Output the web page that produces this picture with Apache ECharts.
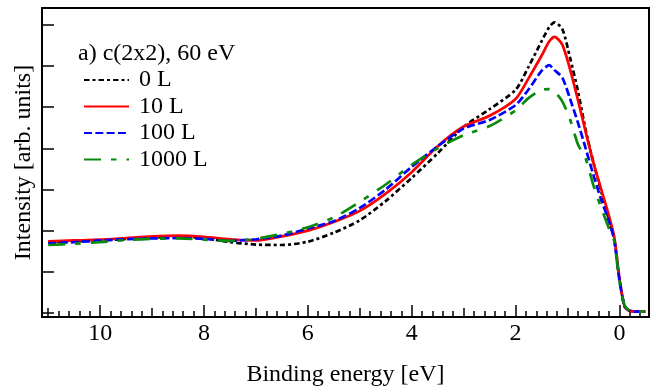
<!DOCTYPE html>
<html>
<head>
<meta charset="utf-8">
<script src="https://cdn.jsdelivr.net/npm/echarts@6/dist/echarts.min.js"></script>
<style>
    html, body { margin: 0; padding: 0; background: #fff; }
    #chart { width: 656px; height: 392px; }
</style>
</head>
<body>
<div id="chart"></div>
<script>
// binding energy (eV) where the curves were read
const energy = [11.0, 10.5, 10.0, 9.5, 9.0, 8.5, 8.0, 7.5, 7.0, 6.5, 6.0, 5.5, 5.0, 4.5, 4.0, 3.5, 3.0, 2.5, 2.0,
    1.75, 1.5, 1.35, 1.25, 1.1, 0.95, 0.8, 0.65, 0.5, 0.35, 0.2, 0.1, 0.0, -0.1, -0.2, -0.35, -0.5];

const dose0 = [1.72, 1.74, 1.76, 1.80, 1.83, 1.85, 1.82, 1.72, 1.66, 1.65, 1.73, 1.95, 2.25, 2.72, 3.28, 3.88, 4.52, 4.95, 5.42,
    5.98, 6.60, 6.95, 7.06, 6.90, 6.20, 5.40, 4.45, 3.65, 2.95, 2.25, 1.80, 0.85, 0.15, 0.05, 0.03, 0.03];
const dose10 = [1.74, 1.76, 1.78, 1.82, 1.86, 1.88, 1.85, 1.79, 1.76, 1.86, 2.00, 2.21, 2.48, 2.90, 3.42, 4.05, 4.53, 4.79, 5.20,
    5.70, 6.25, 6.60, 6.71, 6.52, 5.92, 5.18, 4.40, 3.65, 3.00, 2.35, 1.85, 0.85, 0.15, 0.05, 0.03, 0.03];
const dose100 = [1.69, 1.72, 1.76, 1.79, 1.81, 1.82, 1.80, 1.75, 1.79, 1.88, 2.05, 2.23, 2.55, 3.00, 3.55, 4.05, 4.48, 4.69, 5.05,
    5.43, 5.88, 6.02, 5.90, 5.72, 5.20, 4.63, 4.00, 3.35, 2.75, 2.22, 1.77, 0.80, 0.17, 0.05, 0.03, 0.03];
const dose1000 = [1.65, 1.68, 1.72, 1.77, 1.80, 1.81, 1.78, 1.75, 1.80, 1.92, 2.08, 2.32, 2.70, 3.12, 3.60, 4.00, 4.32, 4.54, 4.92,
    5.22, 5.42, 5.44, 5.38, 5.14, 4.70, 4.10, 3.75, 3.10, 2.55, 2.05, 1.75, 0.78, 0.18, 0.05, 0.03, 0.03];

const majorTicks = [0, 2, 4, 6, 8, 10];
const midTicks = [1, 3, 5, 7, 9, 11];
const minorTicks = [];
for (let i = -2; i <= 55; i++) minorTicks.push(+(i * 0.2).toFixed(1));
const yTicks = [0, 1, 2, 3, 4, 5, 6, 7];

const FONT = 'Liberation Serif';
const FONT_SIZE = 24;
const xMin = -0.57, xMax = 11.12;

const pairs = vals => energy.map((e, i) => [e, vals[i]]);

const lineSeries = (name, vals, color, type) => ({
    name,
    type: 'line',
    data: pairs(vals),
    symbol: 'none',
    smooth: 0.25,
    lineStyle: {color, type, width: 2.7},
    itemStyle: {color},
});

const tickAxis = (ticks, len, showLine, showLabel) => ({
    type: 'value',
    position: 'bottom',
    min: xMin,
    max: xMax,
    inverse: true,
    axisLine: {show: showLine, onZero: false, lineStyle: {color: '#000', width: 2}},
    axisTick: {show: true, inside: true, length: len, customValues: ticks, lineStyle: {color: '#000', width: 1.5}},
    axisLabel: showLabel
        ? {show: true, customValues: ticks, color: '#000', fontFamily: FONT, fontSize: FONT_SIZE, margin: 5}
        : {show: false},
    splitLine: {show: false},
});

const chart = echarts.init(document.getElementById('chart'));

const options = {
    animation: false,
    backgroundColor: '#fff',
    title: {
        text: 'a) c(2x2), 60 eV',
        left: 78,
        top: 42,
        padding: 0,
        textStyle: {color: '#000', fontFamily: FONT, fontSize: FONT_SIZE, fontWeight: 'normal'},
    },
    legend: {
        orient: 'vertical',
        left: 83,
        top: 67,
        padding: 0,
        itemWidth: 45,
        itemHeight: 14,
        itemGap: 0.5,
        // hide the marker dot, keep only the line sample
        itemStyle: {opacity: 0},
        textStyle: {color: '#000', fontFamily: FONT, fontSize: FONT_SIZE, lineHeight: 26, padding: [0, 0, 0, 5]},
        data: ['0 L', '10 L', '100 L', '1000 L'],
    },
    grid: {
        left: 42,
        top: 8,
        right: 7,
        bottom: 75,
        show: true,
        borderColor: '#000',
        borderWidth: 2,
    },
    xAxis: [
        Object.assign(tickAxis(majorTicks, 12, true, true), {
            name: 'Binding energy [eV]',
            nameLocation: 'middle',
            nameGap: 46,
            nameTextStyle: {color: '#000', fontFamily: FONT, fontSize: FONT_SIZE},
        }),
        tickAxis(midTicks, 9, false, false),
        tickAxis(minorTicks, 6, false, false),
    ],
    yAxis: {
        type: 'value',
        min: -0.1,
        max: 7.41,
        name: 'Intensity [arb. units]',
        nameLocation: 'middle',
        nameGap: 6,
        nameTextStyle: {color: '#000', fontFamily: FONT, fontSize: FONT_SIZE},
        axisLine: {show: true, onZero: false, lineStyle: {color: '#000', width: 2}},
        axisTick: {show: true, inside: true, length: 12, customValues: yTicks, lineStyle: {color: '#000', width: 1.5}},
        axisLabel: {show: false},
        splitLine: {show: false},
    },
    series: [
        lineSeries('0 L', dose0, '#000000', [5.5, 3, 3, 3]),
        lineSeries('10 L', dose10, '#ff0000', 'solid'),
        lineSeries('100 L', dose100, '#0000ff', [8, 3.3]),
        lineSeries('1000 L', dose1000, '#0a8a0a', [17, 10, 5.5, 10]),
    ],
};

chart.setOption(options);
</script>
</body>
</html>
